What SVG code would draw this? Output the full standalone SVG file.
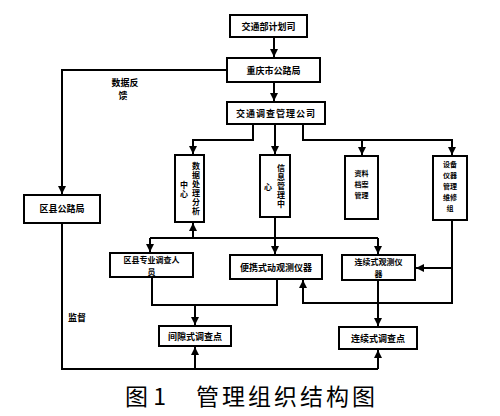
<svg xmlns="http://www.w3.org/2000/svg" width="500" height="416" viewBox="0 0 500 416">
<defs>
<marker id="ah" markerUnits="userSpaceOnUse" markerWidth="9" markerHeight="9" refX="8" refY="4" orient="auto">
<path d="M0,0 L8,4 L0,8 z" fill="#000"/>
</marker>
<style>
.box{fill:#fff;stroke:#000;stroke-width:2}
.t{font-family:"Noto Sans CJK SC","Noto Sans",sans-serif;font-size:9px;font-weight:bold;fill:#000;text-anchor:middle}
.s{font-size:7px}
.m{font-size:8px}
.v{font-family:"Noto Sans CJK SC","Noto Sans",sans-serif;font-size:8px;font-weight:bold;fill:#000;writing-mode:vertical-rl;letter-spacing:1px}
.c{fill:none;stroke:#000;stroke-width:2}
.a{marker-end:url(#ah)}
</style>
</defs>
<rect width="500" height="416" fill="#fff"/>
<g id="connectors">
<path class="c a" d="M274 37 V57"/>
<path class="c a" d="M274 82 V101"/>
<path class="c a" d="M227 70 H62 V194"/>
<path class="c a" d="M253 124 V140 H193 V154"/>
<path class="c a" d="M275 124 V154"/>
<path class="c a" d="M303 124 V140 H452 V155"/>
<path class="c a" d="M362 140 V155"/>
<path class="c a" d="M275 217 V254"/>
<path class="c" d="M150 238 H378"/>
<path class="c a" d="M150 238 V252"/>
<path class="c a" d="M378 238 V254"/>
<path class="c a" d="M193 238 V223"/>
<path class="c a" d="M452 220 V303 H303 V280"/>
<path class="c a" d="M452 268 H416"/>
<path class="c" d="M152 277 V305 H277 V279"/>
<path class="c a" d="M195 305 V325"/>
<path class="c a" d="M378 280 V326"/>
<path class="c" d="M62 223 V369 H378"/>
<path class="c a" d="M195 369 V347"/>
<path class="c a" d="M378 369 V350"/>
</g>
<g id="n1"><rect class="box" x="230" y="15" width="77" height="22"/><text class="t" x="268.5" y="29.5">交通部计划司</text></g>
<g id="n2"><rect class="box" x="227" y="58" width="93" height="24"/><text class="t" x="273.5" y="73.5">重庆市公路局</text></g>
<g id="n3"><rect class="box" x="227" y="102" width="98" height="22"/><text class="t" x="276" y="116.5" letter-spacing="1">交通调查管理公司</text></g>
<g id="n4"><rect class="box" x="175" y="155" width="29" height="67"/>
<text class="v" x="196" y="162">数据处理分析</text>
<text class="v" x="184" y="181">中心</text></g>
<g id="n5"><rect class="box" x="260" y="155" width="30" height="62"/>
<text class="v" x="281" y="164">信息管理中</text>
<text class="v" x="268" y="183">心</text></g>
<g id="n6"><rect class="box" x="345" y="156" width="33" height="63"/>
<text class="t s" x="361.5" y="176">资料<tspan x="361.5" dy="11">档案</tspan><tspan x="361.5" dy="11">管理</tspan></text></g>
<g id="n7"><rect class="box" x="433" y="156" width="34" height="64"/>
<text class="t s" x="450" y="167">设备<tspan x="450" dy="11">仪器</tspan><tspan x="450" dy="11">管理</tspan><tspan x="450" dy="11">维修</tspan><tspan x="450" dy="11">组</tspan></text></g>
<g id="n8"><rect class="box" x="24" y="195" width="76" height="28"/><text class="t" x="62" y="212">区县公路局</text></g>
<g id="n9"><rect class="box" x="110" y="253" width="83" height="24"/><text class="t m" x="151.5" y="262.5">区县专业调查人<tspan x="151.5" dy="12">员</tspan></text></g>
<g id="n10"><rect class="box" x="230" y="255" width="92" height="24"/><text class="t" x="276" y="270.5">便携式动观测仪器</text></g>
<g id="n11"><rect class="box" x="342" y="255" width="73" height="25"/><text class="t m" x="378.5" y="265">连续式观测仪<tspan x="378.5" dy="12">器</tspan></text></g>
<g id="n12"><rect class="box" x="159" y="326" width="72" height="20"/><text class="t" x="195" y="339.5">间隙式调查点</text></g>
<g id="n13"><rect class="box" x="339" y="327" width="78" height="22"/><text class="t" x="378" y="341.5">连续式调查点</text></g>
<g id="labels">
<text class="t" x="125" y="86">数据反<tspan x="123" dy="13">馈</tspan></text>
<text class="t" x="77" y="321">监督</text>
</g>
<g id="caption" font-family="'Noto Sans CJK SC','Noto Sans',sans-serif" font-size="23" fill="#000">
<text x="125" y="405">图 1</text>
<text x="196" y="405" letter-spacing="3">管理组织结构图</text>
</g>
</svg>
